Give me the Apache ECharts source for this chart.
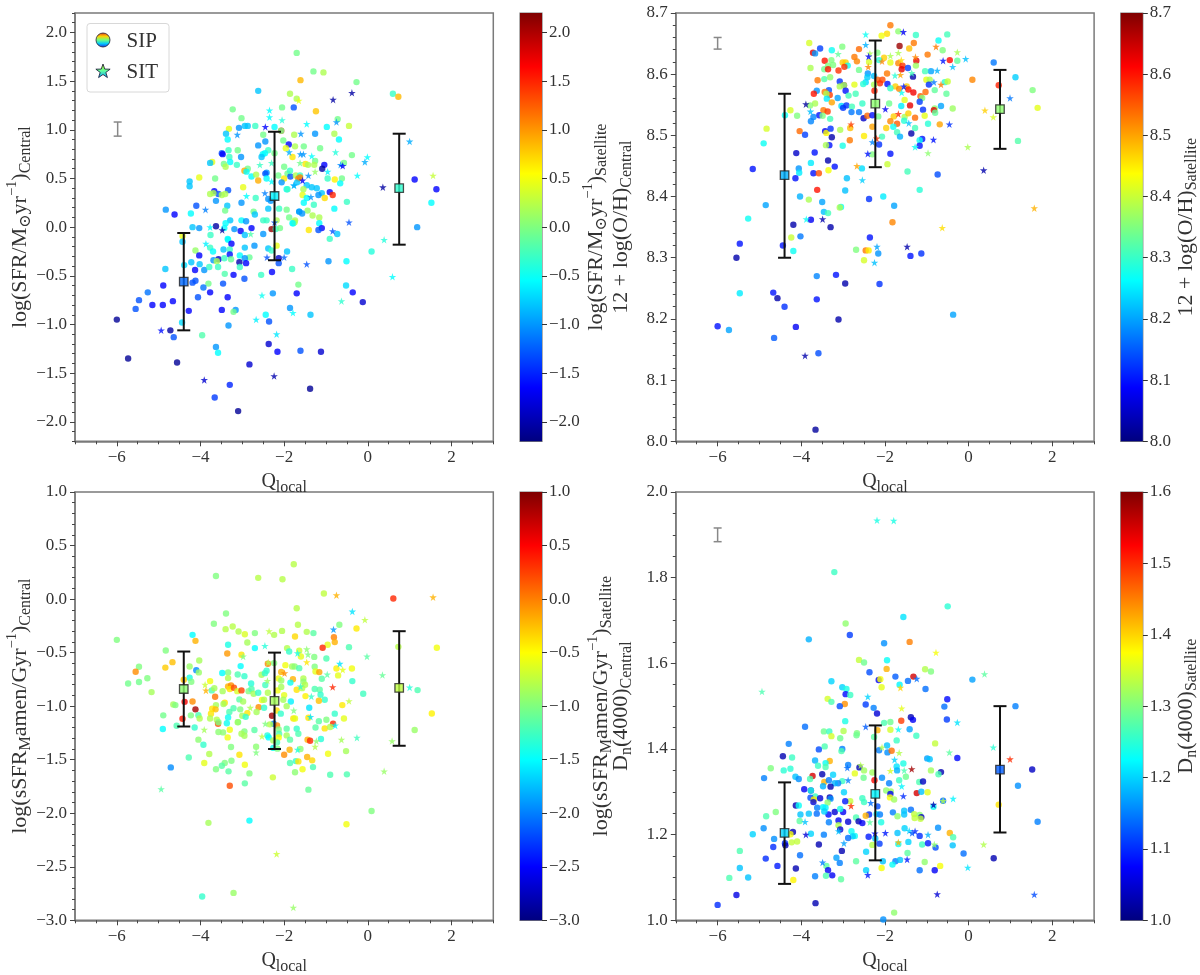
<!DOCTYPE html>
<html><head><meta charset="utf-8">
<style>html,body{margin:0;padding:0;background:#fff}#c{width:1200px;height:975px}</style>
<script src="https://cdn.jsdelivr.net/npm/echarts@6/dist/echarts.min.js"></script>
</head><body><div id="c"></div>
<script>
const sfrCircles=[[-1.7,1.79,-.05],[-1.61,1.51,.85],[-2.62,1.4,-.8],[-1.86,1.37,.2],[-1.7,1.32,.2],[-3.23,1.21,-.05],[-2.05,1.23,-.05],[-1.77,1.23,-1.3],[-3.02,1.12,-.05],[-3.32,1.01,.45],[-3.08,1.02,-1],[-2.94,1.04,-.8],[-2.87,1.04,-.8],[-2.69,1.04,-.3],[-2.23,1.03,-.55],[-2.07,.99,1.5],[-2.07,.99,-.05],[-3.39,.96,-.8],[-3.35,.9,-.55],[-2.5,.95,-.05],[-2.45,.88,-1],[-1.76,.95,.2],[-2.02,.89,-.05],[-1.89,.85,-1.65],[-2.62,.84,-1],[-1.74,.83,.2],[-1.96,.81,.45],[-3.33,.79,-.3],[-3.11,.79,-.05],[-3.49,.76,-1.3],[-3.47,.75,-1.65],[-2.38,.79,-.3],[-2.46,.76,-.55],[-2.51,.75,-.55],[-2.23,.76,-.05],[-1.8,.72,.65],[-3.03,.72,-1],[-3.31,.72,-.3],[-2.54,.72,-.8],[-3.29,.67,-.55],[-3.13,.64,-.3],[-3.72,.67,.45],[-3.77,.66,-.8],[-3.44,.65,-.05],[-3.4,.62,.2],[-2,.62,-.05],[-2.87,.6,-.05],[-2.95,.58,.9],[-2.9,.57,-.55],[-4.03,.51,.45],[-3.65,.5,-.05],[-4.26,.47,-.8],[-4.26,.42,-.8],[-2.78,.52,-.55],[-2.67,.54,.2],[-2.62,.48,.9],[-2.42,.56,-1],[-2.45,.55,-1.3],[-2.42,.5,-.55],[-2.14,.53,-.05],[-2,.5,.65],[-1.92,.55,-.05],[-1.85,.52,-1.3],[-2.06,.46,-1],[-1.94,.39,-.55],[-1.72,.53,.2],[-1.66,.5,1.1],[-1.69,.46,-.8],[-2.98,.41,.45],[-3.67,.37,-1.65],[-3.34,.38,-1.3],[-3.57,.34,-1.3],[-3.77,.34,.2],[-3.69,.35,.2],[-3.49,.33,.2],[-3.41,.34,.2],[-2.68,.3,-.3],[-2.38,.29,-1],[-2.32,.27,-1],[-3.63,.27,-1],[-4.1,.22,-1.3],[-3.02,.25,-1],[-3.36,.22,-.8],[-4.83,.18,-1],[-4.62,.13,-1.65],[-4.23,.14,-.55],[-3.41,.17,-.05],[-2.38,.19,-.8],[-2.73,.16,-.05],[-2.7,.13,-.8],[-2.12,.19,-.3],[-1.94,.18,-.05],[-1.64,.16,-.8],[-1.88,.1,-.05],[-3.02,.07,-.55],[-2.91,.06,-1],[-3.29,.07,-.8],[-3.4,.04,-.55],[-2.5,.07,-.3],[-2.42,.07,-.3],[-1.74,.07,.2],[-1.78,.04,-.55],[-2.18,.07,.2],[-4.19,0,-.8],[-4.03,-.01,-1],[-3.63,.01,-2.05],[-3.43,-.01,-.55],[-3.19,-.02,-1],[-3.04,-.04,-1.65],[-2.78,-.01,-1.65],[-2.94,-.08,-.8],[-2.5,-.07,-1],[-2.3,-.02,2.1],[-2.2,-.02,-.3],[-2.1,-.01,-.05],[-3.76,-.08,-.3],[-3.35,-.12,-.55],[-1.3,1.6,-.05],[-1.06,1.59,.2],[-.27,1.49,-.05],[.6,1.37,-.3],[.73,1.34,.85],[-1.24,1.19,.8],[-.72,1.11,-.05],[-.45,1.04,.3],[-.98,1.03,-.55],[-.8,.96,.2],[-1.26,.96,-1],[-.69,.9,-.55],[-1.53,.83,-.05],[-1.14,.81,-.05],[-.38,.74,-.05],[-.57,.66,-.05],[-1.49,.65,.65],[-1.43,.64,.2],[-1.26,.68,-.05],[-1.28,.64,.2],[-1.04,.64,-1.65],[-1.09,.6,-2.05],[-1.86,.58,-.3],[-1.62,.53,-.3],[-.96,.5,-.3],[-.62,.5,-.05],[-.79,.49,.6],[-.66,.45,-.55],[-1.62,.51,1.1],[1.12,.49,-1.65],[1.64,.39,-1.65],[1.52,.25,-.55],[-1.46,.43,-.8],[-1.34,.41,-.8],[-1.22,.4,-.8],[-1.92,.39,-.3],[-1.54,.39,.2],[-1.1,.35,-.8],[-1.18,.33,-1],[-.91,.36,-1.65],[-.84,.33,1.5],[-1.03,.3,.7],[-1.56,.33,.45],[-1.46,.3,-.55],[-.5,.26,-.3],[-1.53,.25,-.55],[-1.29,.23,-.3],[-.8,.19,-.55],[-1.44,.17,.1],[-1.64,.16,-1],[-1.57,.14,-1],[-1.32,.12,.2],[-1.16,.1,.2],[-1.16,.04,-.55],[-1.75,.05,.2],[-1.8,.04,-.55],[1.18,0,-1],[-1.41,-.03,.65],[-1.1,-.01,-1.65],[-1.18,-.03,-1.3],[-.73,-.07,-.8],[-.91,-.12,-.3],[-4.43,-.09,.45],[-4.43,-.15,-.8],[-4.12,-.24,.1],[-4.03,-.29,-1.65],[-3.34,-.13,-.55],[-3.26,-.17,-1.65],[-3.77,-.21,-.3],[-3.7,-.25,-.55],[-3.45,-.23,-.8],[-3.3,-.23,-.3],[-2.94,-.21,-.8],[-2.71,-.19,-1],[-2.38,-.22,-.8],[-2.3,-.24,-.3],[-2.18,-.19,.45],[-1.93,-.25,-.8],[-3.3,-.28,-1.6],[-3.06,-.29,-.55],[-2.83,-.31,-.1],[-3.57,-.33,-1.9],[-3.69,-.34,-1],[-3.61,-.35,.2],[-3.43,-.32,-.3],[-3.27,-.33,-.1],[-2.94,-.32,-1],[-3.07,-.36,-2],[-2.91,-.37,-1.65],[-2.13,-.32,-1.9],[-2.13,-.37,-1.3],[-.94,-.35,-1],[-.51,-.35,-.55],[-4.22,-.36,-.8],[-4.02,-.38,-.8],[-4.13,-.44,-1.65],[-3.91,-.44,-1],[-3.79,-.41,-.3],[-3.58,-.41,-.3],[-4.84,-.43,-.8],[-4.39,-.39,-.7],[-3.06,-.41,-.3],[-1.81,-.43,-.3],[-3.42,-.48,-.2],[-3.21,-.49,-1.65],[-2.95,-.53,-1.3],[-2.55,-.49,-.3],[-2.29,-.46,-1.65],[-3.81,-.58,-.05],[-3.46,-.58,-1.3],[-4.19,-.57,-1.3],[-4.12,-.55,-1.3],[-4.89,-.6,-1.65],[-3.93,-.62,-1.15],[-3.77,-.67,-1.65],[-5.26,-.67,-1.15],[-4.06,-.72,-1.3],[-5.47,-.75,-1.3],[-4.66,-.76,-1.65],[-5.15,-.8,-1.65],[-4.9,-.8,-1.65],[-5.55,-.84,-1.3],[-3.35,-.72,-1.65],[-3.16,-.85,-1],[-3.21,-.87,-.05],[-3.49,-.85,-1.65],[-4.28,-.86,-1.65],[-2.27,-.68,-1],[-1.7,-.68,-1.65],[-1.66,-.59,-.05],[-.52,-.6,-.7],[-.36,-.67,-1.65],[-1.86,-.83,-1],[-1.37,-.9,-.8],[-2.44,-.9,-.55],[-2.36,-.97,-1.3],[-3.33,-1.01,-1],[-4.72,-1.06,-2.05],[-4.64,-1.13,-1.3],[-4.44,-.98,-.7],[-3.96,-1.11,-.2],[-3.63,-1.23,-1],[-3.58,-1.29,-.55],[-2.37,-1.2,-1.85],[-2.16,-1.28,-1.65],[-1.61,-1.27,-1.3],[-1.12,-1.28,-1.85],[-5.73,-1.35,-2.1],[-6,-.95,-2.1],[-4.56,-1.39,-2.1],[-2.83,-1.41,-1.85],[-3.3,-1.62,-1.5],[-1.38,-1.66,-2.1],[-3.66,-1.75,-1.4],[-3.1,-1.89,-2.1],[.09,-.25,-.4],[-.12,-.77,-1.85]];
const sfrStars=[[-1.65,1.3,.45],[-2.35,1.2,-.55],[-2.35,1.13,-.55],[-2.05,1.1,-.4],[-2.45,1.03,-1.65],[-3.12,.95,-1],[-1.88,.77,-.9],[-2.58,.64,-.3],[-2.3,.66,-.3],[-2.3,.47,-.55],[-1.76,.43,-.8],[-2.9,.32,-.55],[-2.46,.35,-1.1],[-3.88,.18,-1.1],[-2.23,.05,-1.3],[-3.77,0,-.55],[-3.48,-.03,-2.05],[-2.8,-.07,-.2],[-.38,1.38,-2.05],[-.83,1.31,-2.05],[-.75,1.08,-1],[-1.46,1.06,-.55],[-1.6,.96,-1],[1,.88,-.9],[-.77,.77,-.4],[-1.61,.75,-1],[-1.54,.75,-1],[-1.34,.73,-.55],[-.01,.72,-.55],[-.07,.67,-.9],[-1.62,.66,-.05],[-.65,.64,-1],[-.6,.63,-1.65],[-.96,.57,-.6],[-1.26,.57,.1],[-.25,.53,-.55],[-1.42,.53,-1],[-1.56,.48,-1.65],[1.56,.53,.3],[.36,.41,-2.05],[-1.77,.43,-.9],[-1.36,.31,-1],[-.45,.05,-1.3],[-.84,-.04,-1.3],[.39,-.13,-.4],[-3.87,-.17,-.6],[-2.41,-.31,-1.3],[-2,-.31,-1.2],[-1.46,-.38,-1.3],[-.63,-.76,-.35],[-2.53,-.7,-.5],[-1.79,-.88,-.55],[-2.67,-.95,-.6],[-4.94,-1.06,-1.6],[-2.18,-1.1,-.65],[-3.91,-1.57,-1.85],[-2.24,-1.53,-2],[.59,-.51,-.55]];
const sfrBins=[[-4.4,-.56,-1.2],[-2.23,.32,-.6],[.75,.4,-.35]];
const sfrBars=[[-4.4,-1.06,-.06],[-2.23,-.34,.98],[.75,-.18,.96]];
const sfrSample=[[-5.98,.935,1.08]];

const ohCircles=[[-1.87,8.68,8.53],[-1.68,8.67,8.36],[-1.95,8.666,8.46],[-2.08,8.663,8.43],[-1.26,8.664,8.3],[-.51,8.665,8.31],[-.72,8.655,8.27],[-1.31,8.651,8.53],[-1.65,8.646,8.68],[-1.42,8.642,8.48],[-.62,8.639,8.35],[-2.62,8.641,8.54],[-3.02,8.645,8.35],[-3.27,8.639,8.27],[-3.55,8.642,8.13],[-3.81,8.651,8.41],[-3.72,8.635,8.63],[-3.67,8.634,8.19],[-.98,8.632,8.53],[-2.18,8.635,8.35],[-1.25,8.622,8.63],[-.45,8.623,8.61],[-.27,8.622,8.33],[-2.73,8.628,8.53],[-2.02,8.627,8.47],[-2.14,8.623,8.29],[-1.87,8.619,8.42],[-2.38,8.62,8.41],[-3.44,8.622,8.6],[-3.28,8.623,8.35],[-2.67,8.621,8.52],[-3.01,8.619,8.47],[-2.94,8.619,8.47],[-3.24,8.615,8.35],[-3.36,8.614,8.35],[-2.89,8.614,8.27],[-2.97,8.612,8.58],[-1.68,8.618,8.52],[-1.58,8.614,8.58],[-1.45,8.61,8.13],[-1.26,8.614,8.37],[-3.78,8.61,8.38],[-3.45,8.608,8.34],[-3.36,8.608,8.6],[-3.11,8.606,8.58],[-2.62,8.607,8.34],[-1.6,8.608,8.63],[-.9,8.605,8.2],[-1.04,8.605,8.31],[-1.95,8.601,8.53],[-2.41,8.601,8.19],[-2.42,8.595,8.23],[-2.26,8.597,8.22],[-1.33,8.596,8.03],[-3.45,8.592,8.32],[-3.31,8.595,8.36],[-3.61,8.59,8.53],[-3.08,8.588,8.12],[-2.18,8.591,8.55],[-2.06,8.591,8.56],[-2.12,8.585,8.58],[-2.46,8.587,8.24],[-2.52,8.584,8.29],[-2.73,8.583,8.42],[-2.26,8.583,8.38],[-1.94,8.584,8.1],[-1.01,8.591,8.42],[-.93,8.591,8.38],[-.95,8.583,8.12],[-.57,8.587,8.29],[-.5,8.588,8.4],[.09,8.591,8.52],[-1.75,8.58,8.47],[-1.87,8.577,8.3],[-1.48,8.58,8.47],[-1.66,8.576,8.52],[-1.44,8.575,8.6],[-.81,8.574,8.33],[-1.32,8.57,8.62],[-1.03,8.571,8.54],[-.53,8.568,8.33],[-1.15,8.564,8.55],[-1.11,8.561,8.35],[-2.98,8.582,8.6],[-2.98,8.582,8.35],[-3.08,8.58,8.38],[-2.94,8.573,8.1],[-3.63,8.573,8.19],[-3.34,8.574,8.14],[-3.44,8.571,8.53],[-3.7,8.568,8.6],[-3.32,8.566,8.57],[-3.4,8.568,8.38],[-2.7,8.568,8.31],[-2.87,8.565,8.31],[-2.25,8.573,8.59],[-3.13,8.561,8.2],[-3.39,8.56,8.25],[-3.27,8.554,8.5],[-2.54,8.552,8.3],[-3.67,8.552,8.38],[-3.79,8.549,8.36],[-1.9,8.552,8.34],[-1.53,8.558,8.42],[-1.17,8.555,8.13],[-3.04,8.548,8.24],[-2.92,8.549,8.12],[-3,8.545,8.12],[-2.79,8.547,8.31],[-1.61,8.548,8.25],[-1.4,8.549,8.63],[-.66,8.548,8.2],[-.38,8.544,8.37],[-1.09,8.542,8.12],[-.81,8.544,8.36],[-.83,8.541,8.63],[-.8,8.537,8.33],[-4.26,8.541,8.41],[-4.1,8.532,8.35],[-4.39,8.533,8.27],[-3.47,8.541,8.53],[-3.37,8.539,8.57],[-3.57,8.533,8.1],[-3.49,8.532,8.35],[-3.71,8.53,8.18],[-3.77,8.523,8.18],[-3.31,8.527,8.31],[-2.8,8.538,8.17],[-2.62,8.538,8.17],[-2.51,8.528,8.05],[-2.42,8.532,8.54],[-2.3,8.533,8.1],[-2.16,8.531,8.34],[-1.79,8.531,8.47],[-1.53,8.53,8.38],[-1.44,8.536,8.47],[-1.28,8.529,8.54],[-1.05,8.532,8.42],[-1.87,8.523,8.52],[-1.71,8.519,8.55],[-1.54,8.524,8.29],[-.97,8.519,8.29],[-.69,8.518,8.5],[-2.83,8.512,8.48],[-2.3,8.514,8.5],[-1.97,8.512,8.47],[-1.8,8.514,8.27],[-1.28,8.512,8.31],[-4.04,8.507,8.54],[-3.91,8.501,8.13],[-4.83,8.511,8.41],[-3.43,8.507,8.08],[-3.4,8.504,8.44],[-3.3,8.511,8.12],[-3.07,8.509,8.38],[-1.71,8.505,8.31],[-1.37,8.503,8.03],[-3.27,8.497,8.03],[-2.5,8.499,8.45],[-2.07,8.498,8.31],[-1.64,8.498,8.21],[-1.11,8.494,8.1],[-1.17,8.492,8.27],[-2.84,8.492,8.53],[-4.9,8.487,8.27],[-3.33,8.484,8.1],[-3.41,8.484,8.38],[-3.01,8.483,8.28],[-2.14,8.485,8.12],[-1.17,8.483,8.1],[-4.12,8.471,8.05],[-3.68,8.472,8.1],[-2.3,8.469,8.35],[-1.87,8.47,8.1],[-3.77,8.455,8.25],[-3.36,8.459,8.03],[-3.2,8.449,8.1],[-1.94,8.453,8.4],[-5.16,8.445,8.1],[-4.06,8.446,8.19],[-2.55,8.446,8.24],[-3.35,8.443,8.43],[-4.05,8.439,8.25],[-3.71,8.438,8.1],[-3.58,8.438,8.56],[-1.46,8.441,8.31],[-.74,8.436,8.14],[-4.14,8.43,8.1],[-2.91,8.43,8.22],[-2.95,8.41,8.22],[-3.62,8.411,8.6],[-1.17,8.411,8.29],[-4.03,8.4,8.21],[-3.82,8.395,8.38],[-3.5,8.391,8.2],[-2.38,8.396,8.12],[-2.04,8.4,8.25],[-1.78,8.385,8.2],[-4.85,8.386,8.2],[-3.05,8.383,8.27],[-3.08,8.382,8.38],[-3.46,8.375,8.22],[-3.36,8.373,8.31],[-5.27,8.364,8.27],[-3.77,8.362,8.08],[-1.82,8.358,8.52],[-4.19,8.354,8.03],[-3.3,8.35,8.03],[-4.24,8.333,8.4],[-4.02,8.335,8.17],[-2.36,8.333,8.1],[-5.47,8.323,8.1],[-4.44,8.32,8.1],[-4.19,8.311,8.27],[-5.55,8.3,8.03],[-2.69,8.313,8.35],[-2.46,8.312,8.53],[-2.39,8.312,8.45],[-2.16,8.307,8.19],[-1.39,8.303,8.1],[-1.13,8.307,8.12],[-2.5,8.296,8.41],[-3.63,8.27,8.18],[-3.17,8.272,8.1],[-2.95,8.258,8.03],[-2.13,8.257,8.12],[-5.47,8.242,8.25],[-4.67,8.243,8.1],[-4.57,8.234,8.03],[-3.63,8.232,8.1],[-4.4,8.22,8.12],[-.37,8.207,8.2],[-3.11,8.199,8.03],[-6,8.188,8.1],[-5.73,8.182,8.2],[-4.13,8.187,8.08],[-4.65,8.169,8.15],[-3.59,8.144,8.14],[-3.66,8.019,8.02],[.6,8.619,8.17],[1.12,8.595,8.23],[.72,8.582,8.59],[1.53,8.574,8.35],[1.65,8.545,8.42],[1.18,8.491,8.32]];
const ohStars=[[-1.56,8.669,8.08],[-2.46,8.665,8.27],[-.78,8.645,8.53],[-2.46,8.648,8.21],[-3.12,8.633,8.33],[-.27,8.636,8.38],[-1.68,8.635,8.38],[-1.87,8.63,8.38],[-2.36,8.634,8.38],[-2.39,8.629,8.08],[-1.27,8.628,8.52],[-.07,8.625,8.22],[-.61,8.622,8.1],[-1.61,8.623,8.46],[-2.07,8.621,8.52],[-2.4,8.612,8.52],[-.38,8.612,8.22],[-.75,8.606,8.21],[-1.36,8.602,8.31],[-1.63,8.599,8.5],[-1.76,8.598,8.29],[-.83,8.587,8.17],[-.66,8.583,8.53],[-1.55,8.58,8.1],[-1.6,8.57,8.27],[-3.89,8.551,8.02],[-1.99,8.543,8.08],[-3.78,8.539,8.22],[-1.68,8.535,8.58],[-1.43,8.52,8.22],[-.46,8.518,8.12],[-2.81,8.518,8.57],[-2.2,8.495,8.58],[-.84,8.493,8.1],[-2.3,8.489,8.18],[-1.28,8.481,8.27],[-.02,8.481,8.38],[-2.41,8.47,8.1],[-.97,8.471,8.36],[-2.67,8.45,8.5],[-2.54,8.427,8.23],[-3.88,8.363,8.27],[-3.49,8.363,8.03],[-.63,8.349,8.46],[-2.19,8.318,8.2],[-1.47,8.318,8.03],[-2.25,8.292,8.22],[-3.91,8.14,8.03],[.99,8.561,8.17],[.39,8.541,8.47],[.59,8.53,8.41],[.36,8.443,8.03],[1.57,8.381,8.49]];
const ohBins=[[-4.4,8.435,8.21],[-2.23,8.552,8.36],[.75,8.543,8.36]];
const ohBars=[[-4.4,8.3,8.568],[-2.23,8.448,8.655],[.75,8.478,8.607]];
const ohSample=[[-6,8.641,8.66]];

const ssfrCircles=[[-1.77,.325,-.78],[-3.63,.216,-1],[-2.62,.198,-.78],[-2.04,.185,-.78],[-1.05,.052,-.75],[.61,.005,.35],[-3.39,-.135,-1],[-1.7,-.085,-.78],[-3.68,-.23,-1],[-3.23,-.256,-.78],[-3.4,-.281,-.78],[-3.09,-.303,-.8],[-2.94,-.328,-.65],[-2.7,-.318,-1],[-2.24,-.334,-.8],[-2.05,-.297,-.8],[-1.67,-.24,-.78],[-.68,-.24,-1],[-.27,-.275,-.42],[-1.46,-.306,-.8],[-1.3,-.318,-1.15],[-1.74,-.35,-.35],[-.81,-.356,0],[-.79,-.402,-.2],[-.96,-.427,-.6],[-1.08,-.455,.35],[-.45,-.449,-1.2],[1.65,-.455,-.55],[.73,-.446,-.78],[-4.19,-.334,-1.5],[-4.12,-.39,-.2],[-6,-.381,-1],[-2.88,-.405,-.85],[-3.34,-.427,-1.4],[-2.7,-.458,-1.5],[-1.93,-.458,-.8],[-1.88,-.49,-1.3],[-1.64,-.483,-.7],[-3.36,-.508,-.1],[-3.02,-.52,-.4],[-4.83,-.48,-1],[-1.6,-.536,-.6],[-1.28,-.54,-1],[-.99,-.555,-1.2],[-4.67,-.589,-.25],[-4.03,-.573,-.85],[-5.47,-.632,-1],[-4.26,-.63,-.9],[-4.84,-.64,-.3],[-5.55,-.679,-.05],[-4.1,-.664,-1.95],[-4.04,-.685,-.9],[-5.27,-.74,-1],[-5.47,-.775,-1.05],[-5.73,-.788,-1.05],[-4.26,-.735,-1.4],[-4.22,-.772,-1],[-4.4,-.754,-.25],[-5.17,-.869,-.85],[-2.39,-.604,0],[-2.24,-.598,-1],[-1.97,-.617,-.55],[-1.81,-.63,-.85],[-1.75,-.63,-.95],[-1.64,-.645,-1.2],[-3.04,-.626,-1.5],[-1.27,-.632,-1],[-1.25,-.676,-.6],[-1.16,-.682,-.15],[-.75,-.648,-.45],[-.38,-.648,-.55],[-.71,-.713,-.6],[-1.1,-.744,-1.15],[-.37,-.766,-1.3],[1.19,-.85,-1.2],[-.11,-.884,-1.25],[-3.34,-.685,-1],[-3.48,-.69,-1.5],[-3.11,-.704,-1.2],[-2.95,-.72,-1.3],[-2.07,-.68,-.2],[-2.42,-.67,-1.3],[-2.54,-.707,-.85],[-2.46,-.692,-1.3],[-3.34,-.738,-.8],[-2.13,-.741,-.55],[-1.79,-.748,-.2],[-1.54,-.741,-.8],[-3.77,-.766,-.55],[-2.79,-.788,-1.35],[-2.45,-.803,-1.25],[-2.07,-.76,-.9],[-1.85,-.78,-1.45],[-1.54,-.772,-.95],[-1.5,-.8,-.8],[-3.73,-.853,-1.2],[-3.67,-.832,-.85],[-3.47,-.86,-.85],[-3.34,-.816,-.2],[-3.27,-.806,-.05],[-3.3,-.84,-.4],[-3.2,-.828,.2],[-3.12,-.86,-.65],[-3.02,-.853,.25],[-2.85,-.86,-1],[-2.78,-.84,-1.2],[-2.73,-.884,-.85],[-2.62,-.875,-1.3],[-2.39,-.875,-.8],[-2.16,-.853,-.55],[-2.07,-.82,-.85],[-1.7,-.847,-.4],[-1.57,-.832,-.8],[-1.27,-.84,-1.2],[-1.15,-.847,-1.15],[-1.13,-.894,-1.3],[-2,-.897,-.6],[-1.49,-.906,-.45],[-1.03,-.94,-1.3],[-1.17,-.95,-.25],[-3.65,-.912,.05],[-4.38,-.96,.55],[-4.19,-.956,-.05],[-4.65,-.984,-.85],[-4.6,-.99,-1],[-4.12,-1.03,.85],[-3.42,-.968,-.4],[-3.45,-.98,-.85],[-3.63,-.99,-.85],[-3.07,-.937,-1.15],[-2.98,-.956,-.85],[-2.53,-.943,-.55],[-2.48,-.94,-.8],[-2.02,-.94,-.85],[-1.84,-.956,-1.55],[-1.94,-1,-.85],[-.61,-.99,-.42],[-1.4,-1.015,-1.6],[-3.21,-1.02,-1.2],[-3.31,-1.055,-1.2],[-3.72,-1.024,-.4],[-3.64,-1.03,-.25],[-3.75,-1.07,-.4],[-3.05,-1.03,-1],[-2.88,-1.065,-.4],[-3,-1.09,-.85],[-2.61,-1.01,-.05],[-2.48,-1.015,-1.3],[-2.66,-1.055,-.85],[-2.18,-1.04,-.4],[-2.29,-1.09,.85],[-2.08,-1.07,-1.3],[-.79,-1.07,-1.3],[1.53,-1.068,-.45],[-4.89,-1.086,-1.05],[-4.43,-1.118,.4],[-4.23,-1.086,-1],[-4.05,-1.084,-1.2],[-4.02,-1.115,-.8],[-3.34,-1.105,-1.45],[-3.77,-1.115,-.8],[-3.61,-1.127,-.8],[-2.92,-1.1,-1.3],[-1.78,-1.115,-.4],[-1.74,-1.115,-.6],[-1.42,-1.108,-.4],[-.57,-1.115,-.6],[-1.17,-1.14,-1.15],[-.99,-1.127,-1],[-3.58,-1.164,.2],[-3.37,-1.16,-1.45],[-3.1,-1.149,-1.2],[-2.25,-1.164,-2],[-2.34,-1.17,-.8],[-2.17,-1.18,-.05],[-.83,-1.164,.35],[-4.9,-1.214,-1.5],[-4.57,-1.183,-1.2],[-4.14,-1.2,-1.3],[-3.57,-1.15,-1],[-3.11,-1.15,-.85],[-3.57,-1.242,-.95],[-3.46,-1.245,-.95],[-3.35,-1.292,-.55],[-3.3,-1.22,-.55],[-2.95,-1.236,-1],[-3.02,-1.258,-.85],[-2.95,-1.276,-.85],[-2.71,-1.223,-1.15],[-2.4,-1.273,-1.35],[-2.37,-1.292,-1.5],[-2.13,-1.217,-1],[-2.12,-1.26,-1.2],[-2.13,-1.292,-.5],[-1.94,-1.21,-1.15],[-1.94,-1.273,-.85],[-1.86,-1.313,-1.15],[-1.7,-1.21,-1.3],[-1.66,-1.258,-1.2],[-1.25,-1.2,-1.15],[-1.03,-1.208,-.4],[-.9,-1.195,-.8],[-1.44,-1.313,-.2],[-1.38,-1.323,.35],[-1.12,-1.307,-1.35],[1.12,-1.223,-.9],[-4.05,-1.313,-.95],[-3.93,-1.36,-1.3],[-3.27,-1.382,-1],[-2.67,-1.379,-.95],[-2.17,-1.338,-1.2],[-2.26,-1.32,-.85],[-2.26,-1.39,-1.45],[-2.16,-1.397,-1],[-2,-1.454,-.05],[-1.87,-1.407,-.2],[-1.61,-1.4,-.95],[-.95,-1.444,-.55],[-.52,-1.42,-.85],[-3.79,-1.447,-.8],[-3.07,-1.454,-.4],[-1.45,-1.475,-.2],[-1.33,-1.506,-.35],[-1.86,-1.531,-1.2],[-1.72,-1.513,-1.3],[-1.66,-1.516,-.4],[-4.28,-1.48,-1.2],[-4.71,-1.572,-1.95],[-3.91,-1.531,-.6],[-3.42,-1.531,-1],[-3.49,-1.556,-1.15],[-3.26,-1.51,-1],[-2.94,-1.547,-.55],[-3.63,-1.59,-1],[-3.33,-1.609,-1.15],[-2.83,-1.628,-1],[-1.74,-1.618,-.95],[-1.56,-1.59,-.55],[-1.31,-1.569,-1.2],[-.9,-1.64,-1.2],[-.5,-1.637,-1.2],[-2.27,-1.665,-.7],[-2.94,-1.721,-1.15],[-3.3,-1.743,.2],[-1.42,-1.78,-1.1],[.09,-1.979,-1],[-3.81,-2.09,-.85],[-2.83,-2.069,-1.5],[-.51,-2.103,-.55],[-3.96,-2.778,-1.3],[-3.21,-2.744,-.9]];
const ssfrStars=[[-.75,.036,-.2],[1.56,.017,-.2],[-.37,-.116,-1.6],[-.07,-.194,-.75],[-.82,-.284,-1.9],[-2.36,-.3,-.75],[-2.46,-.437,-1.35],[-1.46,-.468,-.95],[-1.68,-.505,-1.4],[-1.43,-.517,-1],[-2.98,-.536,-1],[-.02,-.536,-1.15],[-.67,-.604,-1.6],[-2.38,-.592,-.8],[-1.46,-.589,-.4],[-.97,-.704,-1.15],[-.6,-.66,-.6],[.35,-.71,-1.1],[1,-.825,-1.35],[-1.99,-.692,-.05],[-2.4,-.763,-.9],[-1.61,-.816,-1.3],[-3.89,-.8,-.7],[-3.87,-.853,-.2],[-.84,-.822,.35],[-1.35,-.909,-1.3],[-.45,-.953,-.75],[-2.81,-1.015,-.8],[-1.77,-1.04,-1],[-1.37,-1.1,-1.6],[-2.45,-1.164,-1],[-.78,-1.18,-1.5],[-3.91,-1.22,-.85],[-2.53,-1.282,-.75],[-1.23,-1.326,-.95],[-.63,-1.313,-.85],[-.26,-1.295,-1.25],[.58,-1.326,-.9],[-1.68,-1.407,-1.35],[-1.26,-1.379,-.8],[-2.67,-1.432,-1],[.39,-1.609,-.9],[-4.94,-1.774,-1.15],[-2.18,-2.38,-.7],[-1.78,-2.881,-.9]];
const ssfrBins=[[-4.4,-.84,-.95],[-2.23,-.95,-.85],[.75,-.83,-.75]];
const ssfrBars=[[-4.4,-1.19,-.49],[-2.23,-1.4,-.5],[.75,-1.37,-.3]];

const dnCircles=[[-3.21,1.813,1.26],[-.5,1.733,1.25],[-1.56,1.708,1.21],[-2.94,1.693,1.31],[-3.82,1.656,1.18],[-2.84,1.666,1.11],[-2.02,1.647,1.16],[-1.41,1.65,1.45],[-2.62,1.608,1.34],[-2.5,1.602,1.29],[-1.95,1.607,1.23],[-1.96,1.587,1.42],[-2.37,1.579,1.12],[-1.04,1.586,1.33],[-.9,1.581,1.3],[-1.75,1.569,1.13],[-1.32,1.569,1.55],[-1.45,1.559,1.14],[-2.15,1.561,1.07],[-2.11,1.563,1.37],[-3.28,1.558,1.2],[.09,1.562,1.17],[-2.08,1.544,1.36],[-1.65,1.55,1.22],[-1.03,1.54,1.14],[-3.02,1.544,1.2],[-2.92,1.54,1.24],[-2.94,1.528,1.08],[-2.83,1.526,1.26],[-.51,1.516,1.08],[-3.37,1.517,1.35],[-3.28,1.51,1.27],[-2.96,1.505,1.44],[-3.08,1.5,1.12],[-2.46,1.504,1.11],[-2.27,1.496,1.15],[-.58,1.499,1.14],[1.12,1.5,1.15],[-2.19,1.483,1.05],[-1.38,1.474,1.03],[-1.33,1.468,1.07],[-1.61,1.466,1.49],[-.52,1.469,1.11],[-2.95,1.465,1.24],[-2.02,1.461,1.27],[-1.87,1.463,1.29],[-3.91,1.452,1.14],[-2.18,1.444,1.42],[-1.87,1.445,1.35],[-1.41,1.446,1.17],[-3.46,1.441,1.29],[-3.33,1.441,1.26],[-2.99,1.442,1.33],[-2.67,1.437,1.3],[-1.25,1.431,1.26],[-3.28,1.43,1.35],[-2.26,1.428,1.28],[-2.68,1.432,1.29],[-3.07,1.425,1.29],[-1.72,1.42,1.26],[-.8,1.413,1.34],[-.27,1.379,1.08],[-.99,1.378,1.17],[-.93,1.376,1.19],[-1.95,1.408,1.19],[-2.14,1.397,1.15],[-1.94,1.392,1.16],[-1.84,1.396,1.46],[-3.44,1.406,1.27],[-3.02,1.4,1.15],[-3.04,1.395,1.27],[-3.58,1.399,1.12],[-4.3,1.412,1.15],[-4.44,1.383,1.03],[-4.22,1.38,1.26],[-3.67,1.373,1.18],[-3.32,1.372,1.42],[-4.73,1.355,1.3],[-4.42,1.35,1.25],[-4.26,1.354,1.25],[-3.6,1.361,1.26],[-3.42,1.367,1.23],[-3.42,1.358,1.27],[-2.88,1.363,1.15],[-2.61,1.357,1.03],[-1.56,1.366,1.24],[-1.72,1.359,1.21],[-1.71,1.35,1.18],[-.9,1.35,1.32],[-.66,1.346,1.03],[-.72,1.341,1.27],[1.52,1.352,1.04],[1.18,1.314,1.16],[-2.5,1.35,1.32],[-2.72,1.343,1.36],[-2.3,1.345,1.32],[-3.24,1.34,1.2],[-3.5,1.341,1.03],[-3.73,1.337,1.55],[-4.89,1.332,1.15],[-4.14,1.335,1.19],[-4.06,1.33,1.16],[-3.79,1.33,1.27],[-1.5,1.335,1.29],[-1.66,1.327,1.26],[-2.07,1.333,1.16],[-2.51,1.333,1.29],[-2.25,1.327,1.52],[-3.02,1.325,1.26],[-3.12,1.32,1.15],[-3.2,1.32,1.18],[-3.45,1.323,1.42],[-3.34,1.327,1.15],[-1.18,1.323,1.27],[-1.09,1.324,1.04],[-1.9,1.32,1.15],[-3.48,1.313,1.18],[-3.3,1.312,1.03],[-3.93,1.306,1.07],[-3.77,1.303,1.05],[-3.77,1.303,1.24],[-1.97,1.303,1.31],[-1.86,1.301,1.32],[-1.24,1.297,1.55],[-1.13,1.3,1.19],[-.98,1.299,1.36],[-2.98,1.299,1.2],[-1.87,1.295,1.07],[-3.67,1.289,1.26],[-3.78,1.286,1.12],[-3.55,1.285,1.05],[-3.32,1.287,1.03],[-3.3,1.284,1.16],[-3.7,1.282,1.39],[-3.71,1.276,1.05],[-1.88,1.287,1.37],[-1.78,1.282,1.32],[-2.54,1.285,1.26],[-2.83,1.278,1.34],[-2.95,1.278,1.09],[-2.5,1.276,1.26],[-.61,1.279,1.14],[-.84,1.265,1.23],[.72,1.27,1.39],[-3.37,1.275,1.31],[-4.13,1.268,1.03],[-4.06,1.268,1.23],[-3.62,1.263,1.15],[-3.48,1.264,1.22],[-3.42,1.263,1.22],[-2.18,1.266,1.12],[-4.61,1.253,1.3],[-4.84,1.243,1.27],[-4.02,1.247,1.19],[-3.82,1.249,1.19],[-3.63,1.249,1.14],[-3.35,1.247,1.08],[-3.2,1.253,1.05],[-3,1.253,1.07],[-3.07,1.26,1.24],[-3.45,1.254,1.2],[-2.38,1.247,1.1],[-2.46,1.244,1.42],[-2.2,1.248,1.22],[-2.12,1.247,1.15],[-1.81,1.252,1.15],[-1.7,1.243,1.31],[-1.54,1.247,1.19],[-1.38,1.258,1.14],[-1.54,1.256,1.19],[-1.3,1.248,1.34],[-1.17,1.246,1.31],[-1.13,1.241,1.04],[-1.29,1.239,1.34],[-1.15,1.237,1.34],[-2.69,1.24,1.27],[-4.04,1.232,1.28],[-3.34,1.229,1.15],[-3.11,1.233,1.07],[-2.88,1.23,1.05],[-2.63,1.231,1.03],[-2.54,1.227,1.07],[-2.09,1.229,1.24],[1.65,1.23,1.15],[-3.11,1.222,1.33],[-4.9,1.215,1.16],[-5.16,1.201,1.2],[-4.65,1.19,1.16],[-4.2,1.206,1.03],[-4.26,1.201,1.37],[-3.77,1.202,1.2],[-3.46,1.2,1.15],[-3.07,1.212,1.05],[-2.8,1.208,1.23],[-2.72,1.197,1.23],[-2.77,1.196,1.2],[-2.88,1.192,1.14],[-2.39,1.195,1.09],[-1.7,1.204,1.19],[-1.53,1.215,1.2],[-1.17,1.197,1.1],[-.73,1.216,1.16],[-.45,1.204,1.42],[-.37,1.194,1.27],[-2.23,1.191,1.19],[-4.23,1.182,1.34],[-4.1,1.184,1.34],[-4.39,1.18,1.1],[-4.38,1.175,1.03],[-4.67,1.171,1.1],[-3.58,1.177,1.03],[-1.68,1.178,1.23],[-1.44,1.183,1.2],[-2.3,1.176,1.33],[-2.13,1.179,1.11],[-1.11,1.177,1.26],[-.97,1.18,1.09],[-.79,1.17,1.12],[-.38,1.175,1.19],[-3.03,1.162,1.03],[-4.03,1.152,1.14],[-2.45,1.16,1.2],[-4.85,1.144,1.1],[-3.16,1.146,1.17],[-1.46,1.157,1.28],[-.12,1.156,1.14],[.6,1.145,1.03],[-2.69,1.138,1.28],[-3.08,1.134,1.15],[-4.57,1.127,1.09],[-4.13,1.121,1.03],[-5.47,1.122,1.19],[-5.47,1.162,1.27],[-3.4,1.127,1.28],[-2.05,1.138,1.19],[-1.75,1.138,1.15],[-1.64,1.141,1.19],[-1.05,1.136,1.31],[-1.82,1.13,1.23],[-2.08,1.122,1.37],[-.68,1.127,1.37],[-1.17,1.117,1.14],[-.81,1.117,1.07],[-2.45,1.117,1.2],[-3.36,1.117,1.07],[-3.26,1.105,1.07],[-3.41,1.104,1.27],[-3.67,1.103,1.15],[-3.05,1.096,1.28],[-5.27,1.1,1.19],[-5.72,1.099,1.27],[-4.19,1.094,1.38],[-5.55,1.059,1.06],[-6,1.036,1.1],[-3.66,1.04,1.03],[-1.78,1.018,1.31],[-2.04,1.002,1.16]];
const dnStars=[[-2.19,1.934,1.24],[-1.79,1.933,1.24],[-.78,1.625,1.37],[-4.94,1.534,1.27],[.38,1.575,1.28],[-1.24,1.564,1.14],[-1.63,1.543,1.4],[-2.41,1.522,1.2],[-1.6,1.495,1.36],[-.27,1.462,1.21],[-2.46,1.452,1.13],[-1.68,1.446,1.23],[.59,1.404,1.25],[-.46,1.392,1.28],[-2.07,1.404,1.33],[-1.66,1.391,1.33],[.99,1.376,1.5],[-2.9,1.356,1.14],[-2.58,1.362,1.33],[-1.77,1.375,1.2],[-1.87,1.349,1.35],[-1.54,1.35,1.27],[-1.36,1.353,1.58],[-2.88,1.327,1.15],[-1.6,1.313,1.22],[-1.56,1.29,1.1],[-.37,1.284,1.22],[-.61,1.279,1.33],[-.84,1.27,1.03],[-2.34,1.274,1.14],[-2.81,1.267,1.5],[-2.36,1.229,1.28],[-3.91,1.23,1.19],[-3.11,1.208,1.19],[-3.89,1.2,1.05],[-2.24,1.203,1.08],[-1.99,1.204,1.09],[-1.42,1.209,1.2],[-1.35,1.204,1.13],[-1.28,1.208,1.1],[-.97,1.2,1.18],[-2.98,1.18,1.17],[-1.68,1.182,1.42],[-.82,1.177,1.31],[.36,1.177,1.33],[-3.49,1.135,1.15],[-1.47,1.142,1.09],[-.02,1.123,1.21],[-2.41,1.106,1.09],[-.75,1.061,1.05],[1.57,1.06,1.12]];
const dnBins=[[-4.4,1.204,1.2],[-2.23,1.295,1.22],[.75,1.352,1.13]];
const dnBars=[[-4.4,1.085,1.322],[-2.23,1.14,1.455],[.75,1.205,1.5]];
const dnSample=[[-6,1.884,1.916]];

const xTickValues=[-6,-4,-2,0,2];
const xMinorValues=[-7,-6.5,-5.5,-5,-4.5,-3.5,-3,-2.5,-1.5,-1,-.5,.5,1,1.5,2.5,3];
const sfrTicks=[-2,-1.5,-1,-.5,0,.5,1,1.5,2];
const ohTicks=[8,8.1,8.2,8.3,8.4,8.5,8.6,8.7];
const ssfrTicks=[-3,-2.5,-2,-1.5,-1,-.5,0,.5,1];
const dnTicks=[1,1.2,1.4,1.6,1.8,2];
const dnBarTicks=[1,1.1,1.2,1.3,1.4,1.5,1.6];

const jet=['#00007f','#0000ff','#007fff','#00ffff','#7fff7f','#ffff00','#ff7f00','#ff0000','#7f0000'];
const FONT='"Liberation Serif","DejaVu Serif",serif';
const TXT='#333';
function steps(a,b,s){const o=[];const n=Math.round((b-a)/s);for(let i=0;i<=n;i++){o.push(+(a+i*s).toFixed(4));}return o;}
function starPath(){let d='';for(let i=0;i<10;i++){const r=i%2?19.1:50,a=-Math.PI/2+i*Math.PI/5;d+=(i?'L':'M')+(50+r*Math.cos(a)).toFixed(2)+' '+(50+r*Math.sin(a)).toFixed(2);}return 'path://'+d+'Z';}
const STAR=starPath();
const rich={n:{fontSize:22,fontFamily:FONT,color:TXT,lineHeight:38},q:{fontSize:20,fontFamily:FONT,color:TXT,lineHeight:34},
 s:{fontSize:16,fontFamily:FONT,color:TXT,lineHeight:38,verticalAlign:'bottom',padding:[0,0,5,0]},
 u:{fontSize:14.5,fontFamily:FONT,color:TXT,lineHeight:38,verticalAlign:'top',padding:[4,0,0,0]}};
const logSfr=t=>`{n|log(SFR/M}{s|⊙}{n|yr}{u|−1}{n|)}{s|${t}}`;
const logOH=t=>`{n|12 + log(O/H)}{s|${t}}`;
const logSsfr=t=>`{n|log(sSFR}{s|M}{n|amen/Gyr}{u|−1}{n|)}{s|${t}}`;
const dn=t=>`{n|D}{s|n}{n|(4000)}{s|${t}}`;
const panels=[
 {circles:sfrCircles,stars:sfrStars,bins:sfrBins,bars:sfrBars,sample:sfrSample,min:-2.2,max:2.2,ticks:sfrTicks,minor:steps(-2.2,2.2,.1),barTicks:sfrTicks,dec:1,label:logSfr,L:75,T:13,gap:36,barGap:35},
 {circles:ohCircles,stars:ohStars,bins:ohBins,bars:ohBars,sample:ohSample,min:8,max:8.7,ticks:ohTicks,minor:steps(8,8.7,.02),barTicks:ohTicks,dec:1,label:logOH,L:675.8,T:13,gap:36,barGap:24},
 {circles:ssfrCircles,stars:ssfrStars,bins:ssfrBins,bars:ssfrBars,sample:null,min:-3,max:1,ticks:ssfrTicks,minor:steps(-3,1,.1),barTicks:ssfrTicks,dec:1,label:logSsfr,L:75,T:492,gap:36,barGap:40},
 {circles:dnCircles,stars:dnStars,bins:dnBins,bars:dnBars,sample:dnSample,min:1,max:2,ticks:dnTicks,minor:steps(1,2,.05),barTicks:dnBarTicks,dec:1,label:dn,L:675.8,T:492,gap:36,barGap:24,barMax:1.6}
];
const W=418.3,H=428.3,BL=445,BW=22;
const fmt=d=>v=>Number(v).toFixed(d).replace('-','−');
function barRenderer(color,cap,lw){return function(params,api){
 const x=api.value(0),lo=api.coord([x,api.value(1)]),hi=api.coord([x,api.value(2)]);
 const st={stroke:color,lineWidth:lw,fill:null};
 return {type:'group',children:[
  {type:'line',shape:{x1:lo[0],y1:lo[1],x2:hi[0],y2:hi[1]},style:st},
  {type:'line',shape:{x1:lo[0]-cap,y1:lo[1],x2:lo[0]+cap,y2:lo[1]},style:st},
  {type:'line',shape:{x1:hi[0]-cap,y1:hi[1],x2:hi[0]+cap,y2:hi[1]},style:st}]};
};}
const grid=[],xAxis=[],yAxis=[],series=[],visualMap=[];
panels.forEach((p,i)=>{
 const g=grid.length;
 grid.push({left:p.L,top:p.T,width:W,height:H,outerBoundsMode:'none',show:true,borderColor:'#7a7a7a',borderWidth:1.5,backgroundColor:'transparent',containLabel:false});
 const xi=xAxis.length,yi=yAxis.length;
 xAxis.push({type:'value',gridIndex:g,min:-7,max:3,position:'bottom',splitLine:{show:false},
  axisLine:{show:true,onZero:false,lineStyle:{color:'#7a7a7a',width:1.5}},
  axisTick:{show:true,customValues:xTickValues,length:5,lineStyle:{color:'#444',width:1}},
  axisLabel:{customValues:xTickValues,formatter:fmt(0),fontFamily:FONT,fontSize:17,color:TXT,margin:8},
  name:'{q|Q}{s|local}',nameLocation:'middle',nameGap:21,nameTextStyle:{rich}});
 xAxis.push({type:'value',gridIndex:g,min:-7,max:3,position:'bottom',splitLine:{show:false},axisLine:{show:false,onZero:false},
  axisTick:{show:true,customValues:xMinorValues,length:3,lineStyle:{color:'#444',width:1}},axisLabel:{show:false}});
 yAxis.push({type:'value',gridIndex:g,min:p.min,max:p.max,position:'left',splitLine:{show:false},
  axisLine:{show:true,onZero:false,lineStyle:{color:'#7a7a7a',width:1.5}},
  axisTick:{show:true,customValues:p.ticks,length:5,lineStyle:{color:'#444',width:1}},
  axisLabel:{customValues:p.ticks,formatter:fmt(p.dec),fontFamily:FONT,fontSize:17,color:TXT,margin:8},
  name:p.label('Central'),nameLocation:'middle',nameRotate:90,nameGap:p.gap,nameMoveOverlap:false,nameTextStyle:{rich}});
 yAxis.push({type:'value',gridIndex:g,min:p.min,max:p.max,position:'left',offset:0,splitLine:{show:false},axisLine:{show:false,onZero:false},
  axisTick:{show:true,customValues:p.minor,length:3,lineStyle:{color:'#444',width:1}},axisLabel:{show:false}});
 const s0=series.length;
 series.push({type:'scatter',xAxisIndex:xi,yAxisIndex:yi,data:p.circles,symbol:'circle',symbolSize:6.4,z:2,animation:false,silent:true});
 series.push({type:'scatter',xAxisIndex:xi,yAxisIndex:yi,data:p.stars,symbol:STAR,symbolSize:7.5,z:2,animation:false,silent:true});
 series.push({type:'custom',xAxisIndex:xi,yAxisIndex:yi,data:p.bars,renderItem:barRenderer('#111',6.5,2),z:3,animation:false,silent:true,encode:{x:0,y:[1,2]}});
 series.push({type:'scatter',xAxisIndex:xi,yAxisIndex:yi,data:p.bins,symbol:'rect',symbolSize:8.5,z:4,animation:false,silent:true,itemStyle:{borderColor:'#222',borderWidth:1.3}});
 if(p.sample){series.push({type:'custom',xAxisIndex:xi,yAxisIndex:yi,data:p.sample,renderItem:barRenderer('#888',4,1.5),z:3,animation:false,silent:true,encode:{x:0,y:[1,2]}});}
 visualMap.push({show:false,type:'continuous',seriesIndex:[s0,s0+1,s0+3],dimension:2,min:p.min,max:p.barMax||p.max,inRange:{color:jet}});
 const cg=grid.length;
 const bMax=p.barMax||p.max;
 grid.push({left:p.L+BL,top:p.T,width:BW,height:H,outerBoundsMode:'none',show:true,borderColor:'#7a7a7a',borderWidth:1.2,backgroundColor:'transparent'});
 const cx=xAxis.length,cy=yAxis.length;
 xAxis.push({type:'value',gridIndex:cg,min:0,max:1,show:false});
 yAxis.push({type:'value',gridIndex:cg,min:p.min,max:bMax,position:'right',splitLine:{show:false},
  axisLine:{show:false,onZero:false},
  axisTick:{show:true,customValues:p.barTicks,length:5,lineStyle:{color:'#333',width:1}},
  axisLabel:{customValues:p.barTicks,formatter:fmt(p.dec),fontFamily:FONT,fontSize:17,color:TXT,margin:7},
  name:p.label('Satellite'),nameLocation:'middle',nameRotate:90,nameGap:p.barGap,nameMoveOverlap:false,nameTextStyle:{rich}});
 series.push({type:'custom',xAxisIndex:cx,yAxisIndex:cy,data:[[0,p.min,1,bMax]],silent:true,animation:false,z:1,encode:{x:[0,2],y:[1,3]},
  renderItem:function(params,api){
   const a=api.coord([api.value(0),api.value(1)]),b=api.coord([api.value(2),api.value(3)]);
   return {type:'rect',shape:{x:a[0],y:b[1],width:b[0]-a[0],height:a[1]-b[1]},
    style:{fill:new echarts.graphic.LinearGradient(0,1,0,0,jet.map((c,k)=>({offset:k/(jet.length-1),color:c})))}};
  }});
});
const rainbow=new echarts.graphic.LinearGradient(0,0,0,1,[{offset:0,color:'#e0301e'},{offset:.25,color:'#ffd000'},{offset:.5,color:'#70ff80'},{offset:.75,color:'#00c8ff'},{offset:1,color:'#2020e0'}]);
const starPts=[];for(let i=0;i<10;i++){const r=i%2?3:7.5,a=-Math.PI/2+i*Math.PI/5;starPts.push([103+r*Math.cos(a),71.5+r*Math.sin(a)]);}
const graphic=[
 {type:'rect',z:50,shape:{x:87,y:23.5,width:82,height:68.5,r:3},style:{fill:'#fff',stroke:'#d8d8d8',lineWidth:1}},
 {type:'circle',z:51,shape:{cx:103,cy:40,r:7},style:{fill:rainbow,stroke:'#223',lineWidth:.8}},
 {type:'polygon',z:51,shape:{points:starPts},style:{fill:new echarts.graphic.LinearGradient(0,0,0,1,[{offset:0,color:'#c8f000'},{offset:.5,color:'#60ffa0'},{offset:1,color:'#00a0ff'}]),stroke:'#113',lineWidth:.8}},
 {type:'text',z:51,style:{text:'SIP',x:126.5,y:41,fontSize:21,fontFamily:FONT,fill:TXT,verticalAlign:'middle'}},
 {type:'text',z:51,style:{text:'SIT',x:126.5,y:72,fontSize:21,fontFamily:FONT,fill:TXT,verticalAlign:'middle'}}
];
const chart=echarts.init(document.getElementById('c'),null,{renderer:'canvas',width:1200,height:975});
chart.setOption({animation:false,backgroundColor:'#fff',grid,xAxis,yAxis,series,visualMap,graphic});
</script></body></html>
